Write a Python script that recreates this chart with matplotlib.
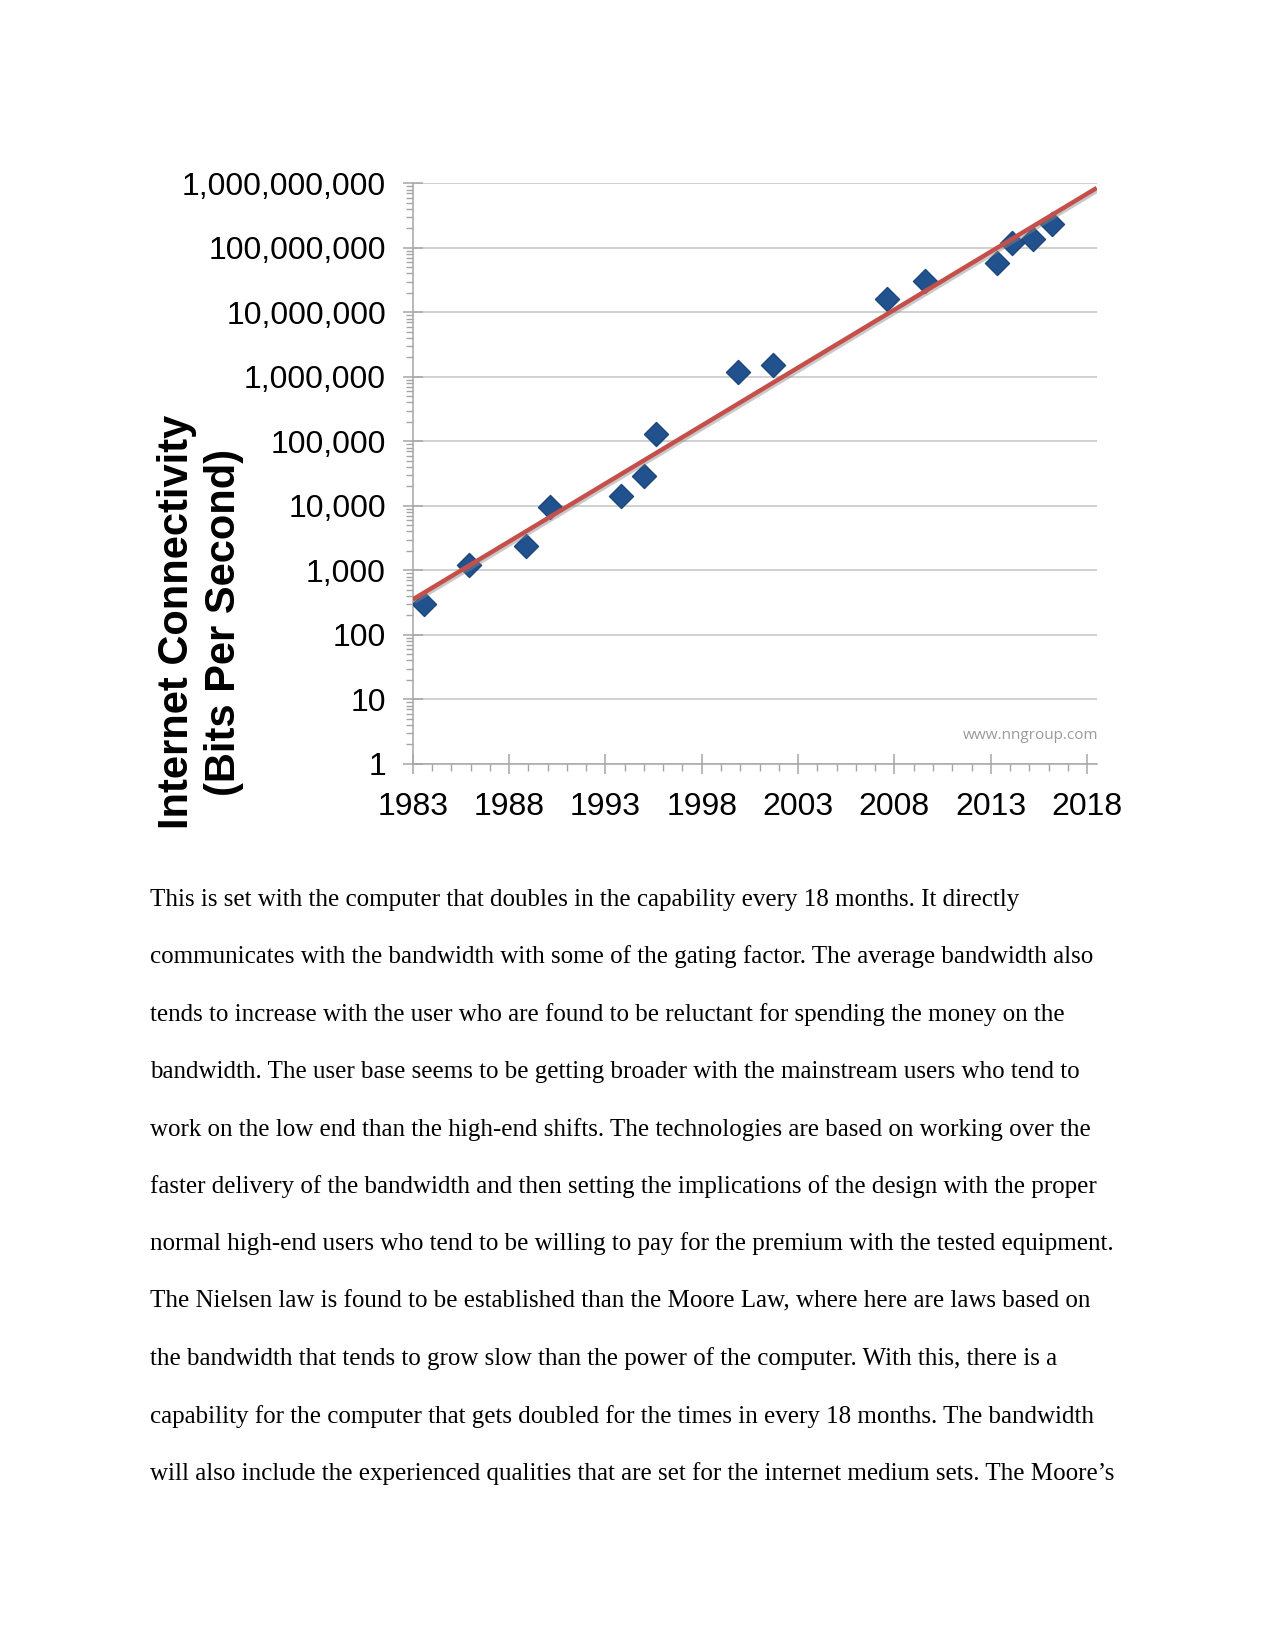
import numpy as np
import matplotlib
matplotlib.use('Agg')
import matplotlib.pyplot as plt
import matplotlib.patheffects as pe
from matplotlib.ticker import LogLocator, FuncFormatter, MultipleLocator, NullFormatter

# connection speed readings (year, bits per second)
years = [1983.6, 1985.9, 1988.9, 1990.1, 1993.8, 1995.0, 1995.6, 1999.9,
         2001.7, 2007.6, 2009.6, 2013.3, 2014.1, 2015.2, 2016.2]
bps = [300, 1200, 2400, 9600, 14400, 28800, 128000, 1200000,
       1500000, 16000000, 31000000, 58000000, 120000000, 136000000, 230000000]

x_ticks = [1983, 1988, 1993, 1998, 2003, 2008, 2013, 2018]
y_ticks = [1, 10, 100, 1e3, 1e4, 1e5, 1e6, 1e7, 1e8, 1e9]

paragraph = [
    "This is set with the computer that doubles in the capability every 18 months. It directly",
    "communicates with the bandwidth with some of the gating factor. The average bandwidth also",
    "tends to increase with the user who are found to be reluctant for spending the money on the",
    "bandwidth. The user base seems to be getting broader with the mainstream users who tend to",
    "work on the low end than the high-end shifts. The technologies are based on working over the",
    "faster delivery of the bandwidth and then setting the implications of the design with the proper",
    "normal high-end users who tend to be willing to pay for the premium with the tested equipment.",
    "The Nielsen law is found to be established than the Moore Law, where here are laws based on",
    "the bandwidth that tends to grow slow than the power of the computer. With this, there is a",
    "capability for the computer that gets doubled for the times in every 18 months. The bandwidth",
    "will also include the experienced qualities that are set for the internet medium sets. The Moore\u2019s",
]

AXIS_GREY = '#A6A6A6'
GRID_GREY = '#C4C4C4'


def main():
    fig = plt.figure(figsize=(12.75, 16.5), dpi=100)
    fig.patch.set_facecolor('white')
    ax = fig.add_axes([0.3237, 0.5371, 0.5365, 0.3518])

    x0, x1 = 1983, 2018.5
    ax.set_xlim(x0, x1)
    ax.set_yscale('log')
    ax.set_ylim(1, 1e9)

    ax.scatter(years, bps, marker='D', s=150, color='#22528E',
               edgecolors='#1B477D', linewidths=1, zorder=3)

    # exponential trendline fitted to the readings
    slope, icpt = np.polyfit(years, np.log10(bps), 1)
    tx = np.array([x0, x1])
    ty = 10 ** (icpt + slope * tx)
    ax.plot(tx, ty, color='#C5504B', lw=3.2, zorder=4, solid_capstyle='butt',
            path_effects=[pe.SimpleLineShadow(offset=(1.2, -1.5), shadow_color='#888888', alpha=0.45),
                          pe.Normal()])

    for side in ['top', 'right']:
        ax.spines[side].set_visible(False)
    for side in ['left', 'bottom']:
        ax.spines[side].set_color(AXIS_GREY)
        ax.spines[side].set_linewidth(1.1)

    ax.set_yticks(y_ticks)
    ax.yaxis.set_minor_locator(LogLocator(base=10, subs=np.arange(2, 10), numticks=20))
    ax.yaxis.set_minor_formatter(NullFormatter())
    ax.yaxis.set_major_formatter(FuncFormatter(lambda v, p: f'{v:,.0f}'))
    ax.grid(True, axis='y', which='major', color=GRID_GREY, lw=1.1)

    ax.set_xticks(x_ticks)
    ax.xaxis.set_minor_locator(MultipleLocator(1))
    ax.set_xticklabels([str(y) for y in x_ticks])

    ax.tick_params(axis='both', which='major', direction='inout', length=14.5,
                   width=1.1, color=AXIS_GREY, labelsize=23,
                   labelfontfamily='Liberation Sans')
    ax.tick_params(axis='both', which='minor', direction='out', length=5,
                   width=1.0, color=AXIS_GREY)
    ax.tick_params(axis='y', which='major', pad=12)
    ax.tick_params(axis='x', which='major', pad=13)

    ax.text(1.003, 0.048, 'www.nngroup.com', transform=ax.transAxes, ha='right',
            va='center', fontsize=11, color='#9A9A9A', family='Open Sans')

    fig.text(177 / 1275, 1 - 622 / 1650, 'Internet Connectivity', rotation=90,
             ha='center', va='center', fontsize=30, weight='bold',
             family='Liberation Sans')
    fig.text(224 / 1275, 1 - 622 / 1650, '(Bits Per Second)', rotation=90,
             ha='center', va='center', fontsize=30, weight='bold',
             family='Liberation Sans')

    # document text below the chart
    for i, line in enumerate(paragraph):
        fig.text(150 / 1275, 1 - (906 + i * 57.4) / 1650, line, ha='left',
                 va='baseline', fontsize=18, family='Liberation Serif')

    fig.savefig('out.png', dpi=100, facecolor='white')


if __name__ == "__main__":
    main()
